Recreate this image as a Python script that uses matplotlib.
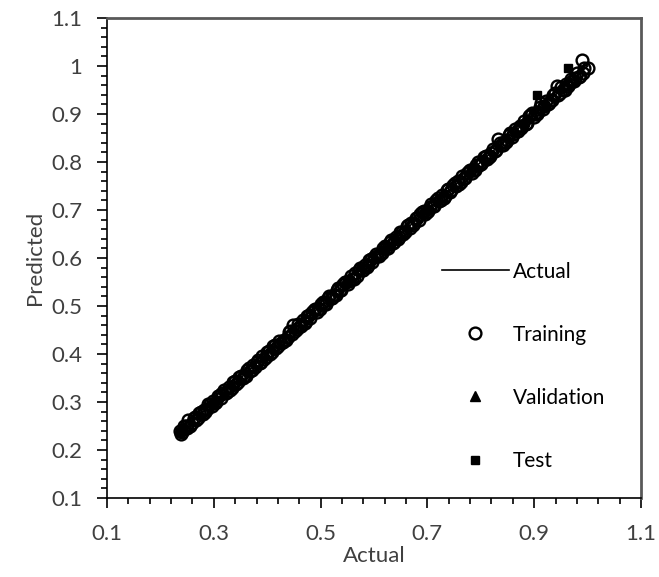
import matplotlib
matplotlib.use("Agg")
import matplotlib.pyplot as plt
from matplotlib.ticker import FixedLocator, FuncFormatter

# ---------------- DATA ----------------
# training set, two batches
train_actual_a = [
    0.236, 0.241, 0.247, 0.252, 0.259, 0.264, 0.270, 0.276, 0.281, 0.287,
    0.293, 0.298, 0.305, 0.311, 0.316, 0.322, 0.328, 0.334, 0.339, 0.345,
    0.351, 0.357, 0.362, 0.368, 0.374, 0.380, 0.386, 0.391, 0.397, 0.403,
    0.409, 0.414, 0.420, 0.426, 0.432, 0.438, 0.443, 0.449, 0.455, 0.461,
    0.467, 0.472, 0.478, 0.484, 0.490, 0.496, 0.501, 0.507, 0.513, 0.519,
    0.525, 0.530, 0.536, 0.542, 0.548, 0.554, 0.559, 0.565, 0.571, 0.577,
    0.583, 0.588, 0.594, 0.600, 0.606, 0.612, 0.617, 0.623, 0.629, 0.635,
    0.641, 0.646, 0.652, 0.658, 0.664, 0.670, 0.675, 0.681, 0.687, 0.693,
    0.699, 0.704, 0.710, 0.716, 0.722, 0.728, 0.733, 0.739, 0.745, 0.751,
    0.757, 0.762, 0.768, 0.774, 0.780, 0.786, 0.791, 0.797, 0.803, 0.809,
    0.815, 0.820, 0.826, 0.832, 0.838, 0.844, 0.849, 0.855, 0.861, 0.867,
    0.873, 0.878, 0.884, 0.890, 0.896, 0.902, 0.907, 0.913, 0.919, 0.925,
    0.931, 0.936, 0.942, 0.948, 0.954, 0.960, 0.965, 0.971, 0.977, 0.983,
    0.989, 0.994, 1.000,
]
train_pred_a = [
    0.240, 0.238, 0.250, 0.262, 0.256, 0.268, 0.266, 0.279, 0.284, 0.285,
    0.296, 0.302, 0.301, 0.314, 0.319, 0.318, 0.331, 0.330, 0.343, 0.342,
    0.354, 0.355, 0.366, 0.365, 0.377, 0.383, 0.382, 0.395, 0.394, 0.407,
    0.405, 0.418, 0.417, 0.423, 0.430, 0.436, 0.447, 0.460, 0.452, 0.458,
    0.470, 0.469, 0.481, 0.488, 0.494, 0.493, 0.505, 0.504, 0.516, 0.517,
    0.522, 0.533, 0.534, 0.545, 0.551, 0.552, 0.556, 0.569, 0.575, 0.574,
    0.586, 0.585, 0.598, 0.603, 0.604, 0.609, 0.621, 0.620, 0.633, 0.632,
    0.644, 0.643, 0.655, 0.654, 0.668, 0.673, 0.672, 0.684, 0.692, 0.697,
    0.695, 0.707, 0.708, 0.720, 0.719, 0.731, 0.730, 0.743, 0.742, 0.756,
    0.760, 0.759, 0.766, 0.777, 0.783, 0.784, 0.794, 0.794, 0.800, 0.812,
    0.811, 0.818, 0.823, 0.847, 0.835, 0.841, 0.846, 0.860, 0.858, 0.865,
    0.876, 0.874, 0.880, 0.896, 0.902, 0.899, 0.904, 0.922, 0.916, 0.921,
    0.929, 0.940, 0.958, 0.944, 0.951, 0.963, 0.962, 0.968, 0.974, 0.978,
    1.012, 0.995, 0.996,
]
train_actual_b = [
    0.238, 0.244, 0.250, 0.256, 0.262, 0.267, 0.273, 0.279, 0.284, 0.290,
    0.296, 0.302, 0.308, 0.313, 0.319, 0.325, 0.331, 0.336, 0.342, 0.348,
    0.354, 0.360, 0.365, 0.371, 0.377, 0.383, 0.388, 0.394, 0.400, 0.406,
    0.411, 0.417, 0.423, 0.429, 0.435, 0.440, 0.446, 0.452, 0.458, 0.464,
    0.470, 0.475, 0.481, 0.487, 0.493, 0.499, 0.504, 0.510, 0.516, 0.522,
    0.528, 0.533, 0.539, 0.545, 0.551, 0.557, 0.562, 0.568, 0.574, 0.580,
    0.586, 0.591, 0.597, 0.603, 0.609, 0.615, 0.620, 0.626, 0.632, 0.638,
    0.644, 0.649, 0.655, 0.661, 0.667, 0.673, 0.678, 0.684, 0.690, 0.696,
    0.702, 0.707, 0.713, 0.719, 0.725, 0.731, 0.736, 0.742, 0.748, 0.754,
    0.760, 0.765, 0.771, 0.777, 0.783, 0.789, 0.794, 0.800, 0.806, 0.812,
    0.818, 0.823, 0.829, 0.835, 0.841, 0.847, 0.852, 0.858, 0.864, 0.870,
    0.876, 0.881, 0.887, 0.893, 0.899, 0.905, 0.910, 0.916, 0.922, 0.928,
    0.934, 0.939, 0.945, 0.951, 0.957, 0.963, 0.968, 0.974, 0.980, 0.986,
    0.992,
]
train_pred_b = [
    0.234, 0.249, 0.245, 0.251, 0.267, 0.262, 0.278, 0.274, 0.279, 0.295,
    0.291, 0.297, 0.313, 0.308, 0.324, 0.320, 0.326, 0.341, 0.337, 0.353,
    0.349, 0.355, 0.370, 0.366, 0.372, 0.388, 0.383, 0.389, 0.405, 0.401,
    0.416, 0.412, 0.428, 0.424, 0.430, 0.445, 0.441, 0.447, 0.463, 0.459,
    0.465, 0.480, 0.476, 0.492, 0.488, 0.494, 0.509, 0.505, 0.521, 0.517,
    0.523, 0.538, 0.534, 0.550, 0.546, 0.562, 0.557, 0.563, 0.579, 0.575,
    0.581, 0.596, 0.592, 0.608, 0.604, 0.610, 0.625, 0.621, 0.637, 0.633,
    0.639, 0.654, 0.650, 0.666, 0.662, 0.668, 0.683, 0.679, 0.695, 0.691,
    0.697, 0.712, 0.708, 0.724, 0.720, 0.726, 0.741, 0.737, 0.753, 0.749,
    0.755, 0.770, 0.766, 0.782, 0.778, 0.784, 0.799, 0.795, 0.811, 0.807,
    0.813, 0.828, 0.824, 0.840, 0.836, 0.842, 0.857, 0.853, 0.869, 0.865,
    0.871, 0.886, 0.882, 0.898, 0.894, 0.900, 0.915, 0.911, 0.927, 0.922,
    0.929, 0.944, 0.940, 0.956, 0.951, 0.958, 0.973, 0.969, 0.985, 0.980,
    0.986,
]
val_actual = [0.300, 0.450, 0.620, 0.780, 0.880]
val_pred = [0.302, 0.455, 0.618, 0.782, 0.885]
test_actual = [0.237, 0.550, 0.700, 0.905, 0.963]
test_pred = [0.238, 0.552, 0.700, 0.940, 0.996]

x_major = [0.1, 0.3, 0.5, 0.7, 0.9, 1.1]
x_minor = [0.1 + 0.04 * i for i in range(26)]
y_major = [0.1 + 0.1 * i for i in range(11)]
y_minor = [0.1 + 0.02 * i for i in range(51)]

# ---------------- PLOT ----------------
plt.rcParams["font.family"] = ["Lato", "DejaVu Sans"]
txt = "#404040"

train_actual = train_actual_a + train_actual_b
train_pred = train_pred_a + train_pred_b
line_xy = [min(train_actual), max(train_actual)]

fig = plt.figure(figsize=(6.59, 5.77), dpi=100)
ax = fig.add_axes([0.1624, 0.1369, 0.8103, 0.8319])

ax.plot(line_xy, line_xy, color="black", lw=1.2, label="Actual", zorder=2)
ax.plot(train_actual, train_pred, ls="none", marker="o", ms=8.5, mfc="none",
        mec="black", mew=1.7, label="Training", zorder=3)
ax.plot(val_actual, val_pred, ls="none", marker="^", ms=7, color="black",
        label="Validation", zorder=4)
ax.plot(test_actual, test_pred, ls="none", marker="s", ms=5.5, color="black",
        label="Test", zorder=4)

ax.set_xlim(0.1, 1.1)
ax.set_ylim(0.1, 1.1)
ax.xaxis.set_major_locator(FixedLocator(x_major))
ax.xaxis.set_minor_locator(FixedLocator(x_minor))
ax.yaxis.set_major_locator(FixedLocator(y_major))
ax.yaxis.set_minor_locator(FixedLocator(y_minor))
fmt = FuncFormatter(lambda v, p: f"{round(v, 2):g}")
ax.xaxis.set_major_formatter(fmt)
ax.yaxis.set_major_formatter(fmt)

ax.tick_params(which="major", direction="out", length=7, width=1.2,
               labelsize=16, labelcolor=txt)
ax.tick_params(axis="x", which="major", pad=12)
ax.tick_params(axis="y", which="major", pad=11)
ax.tick_params(which="minor", direction="out", length=4, width=1.2)
ax.tick_params(top=False, right=False, which="both")
for side in ["left", "bottom"]:
    ax.spines[side].set_color("black")
    ax.spines[side].set_linewidth(1.2)
for side in ["top", "right"]:
    ax.spines[side].set_color("#595959")
    ax.spines[side].set_linewidth(2.0)

ax.set_xlabel("Actual", fontsize=16, color=txt, labelpad=1)
ax.set_ylabel("Predicted", fontsize=16, color=txt, labelpad=4)

ax.legend(loc="upper left", bbox_to_anchor=(0.612, 0.51), frameon=False,
          fontsize=15, labelspacing=2.07, handlelength=3.2, handletextpad=0.2,
          borderaxespad=0)

fig.savefig("out.png", dpi=100)
plt.close(fig)
